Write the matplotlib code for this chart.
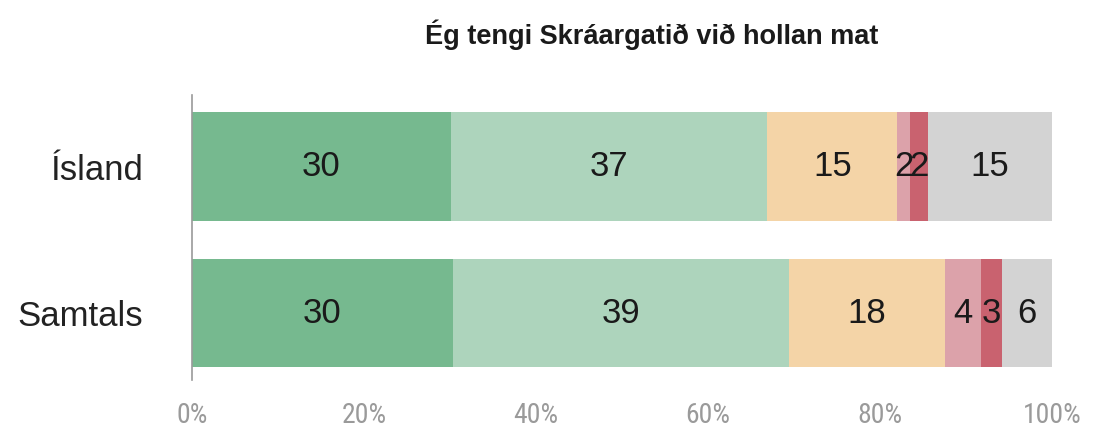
import matplotlib
matplotlib.use("Agg")
import matplotlib.pyplot as plt
from matplotlib import font_manager as fm

categories = ["Samtals", "Ísland"]
island = [30.1, 36.8, 15.1, 1.5, 2.1, 14.4]
samtals = [30.3, 39.1, 18.2, 4.1, 2.5, 5.8]
island_labels = ["30", "37", "15", "2", "2", "15"]
samtals_labels = ["30", "39", "18", "4", "3", "6"]
ticks = [0, 20, 40, 60, 80, 100]
tick_labels = ["0%", "20%", "40%", "60%", "80%", "100%"]
title = "Ég tengi Skráargatið við hollan mat"

colors = ["#76b98f", "#add4bc", "#f4d4a7", "#dca2aa", "#c9626f", "#d3d3d3"]

names = {f.name for f in fm.fontManager.ttflist}
narrow = "Liberation Sans"
for cand in ["Liberation Sans Narrow", "DejaVu Sans Condensed", "Roboto Condensed", "Open Sans Condensed"]:
    if cand in names:
        narrow = cand
        break

plt.rcParams["font.family"] = ["Liberation Sans", "DejaVu Sans"]

fig = plt.figure(figsize=(10.99, 4.32), dpi=100)
ax = fig.add_axes([192/1099, 1-380/432, (1052-192)/1099, 285/432])

data = [samtals, island]
labels = [samtals_labels, island_labels]
h = 0.74
for i, (vals, labs) in enumerate(zip(data, labels)):
    left = 0
    for j, v in enumerate(vals):
        ax.barh(i, v, left=left, height=h, color=colors[j], edgecolor="none")
        ax.text(left + v/2, i, labs[j], ha="center", va="center", fontsize=25, color="#1a1a1a")
        left += v

ax.set_xlim(0, 100)
ax.set_ylim(-0.457, 1.488)
ax.set_yticks([0, 1])
ax.set_yticklabels(categories, fontsize=25, color="#222222")
ax.tick_params(axis="y", length=0, pad=35)
ax.set_xticks(ticks)
ax.set_xticklabels(tick_labels, fontsize=20, color="#9a9a9a", family=narrow)
ax.tick_params(axis="x", length=0, pad=16)
for s in ["top", "right", "bottom"]:
    ax.spines[s].set_visible(False)
ax.spines["left"].set_color("#9a9a9a")
ax.spines["left"].set_linewidth(1.2)

fig.text(652/1099, 1-35/432, title, ha="center", va="center", fontsize=19.5, fontweight="bold", color="#1a1a1a")

fig.savefig("out.png", dpi=100)
